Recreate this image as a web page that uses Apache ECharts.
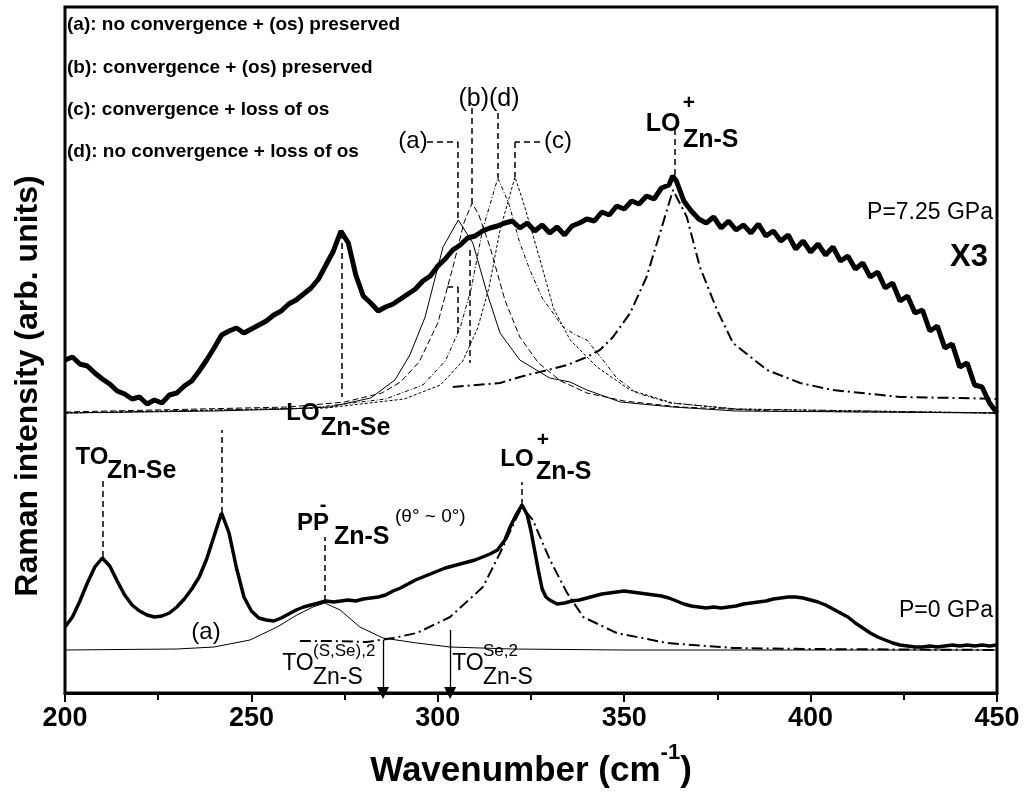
<!DOCTYPE html>
<html>
<head>
<meta charset="utf-8">
<script src="https://cdn.jsdelivr.net/npm/echarts@6/dist/echarts.min.js"></script>
<style>
  html, body { margin: 0; padding: 0; background: #fff; }
  #chart { width: 1027px; height: 798px; }
</style>
</head>
<body>
<div id="chart"></div>
<script>
// x axis ticks (cm-1)
const xTicks = [200, 250, 300, 350, 400, 450]

// P = 7.25 GPa spectrum (shown x3), [wavenumber, intensity]
const spectrumHigh = [
  [200, 333], [202, 336], [204, 329], [206, 327], [208, 320], [210, 314], [212, 309], [214, 302],
  [216, 299], [218, 294], [220, 296], [222, 289], [224, 293], [226, 290], [228, 298], [230, 300],
  [232, 307], [234, 312], [236, 322], [238, 333], [240, 345], [242, 358], [244, 362], [246, 365],
  [248, 360], [250, 364], [252, 368], [254, 372], [256, 378], [258, 382], [260, 389], [262, 393],
  [264, 399], [266, 405], [268, 414], [270, 428], [272, 442], [274, 462], [276, 450], [278, 418],
  [280, 397], [282, 390], [284, 382], [286, 386], [288, 389], [290, 394], [292, 399], [294, 404],
  [296, 412], [298, 417], [300, 427], [302, 434], [304, 443], [306, 448], [308, 455], [310, 457],
  [312, 462], [314, 465], [316, 467], [318, 470], [320, 472], [322, 465], [324, 470], [326, 462],
  [328, 468], [330, 460], [332, 466], [334, 458], [336, 467], [338, 470], [340, 474], [342, 472],
  [344, 481], [346, 478], [348, 487], [350, 484], [352, 492], [354, 489], [356, 497], [358, 494],
  [360, 505], [362, 508], [363, 517], [364, 512], [366, 492], [368, 482], [370, 474], [372, 470],
  [374, 476], [376, 465], [378, 472], [380, 463], [382, 468], [384, 460], [386, 469], [388, 457],
  [390, 462], [392, 452], [394, 458], [396, 444], [398, 452], [400, 441], [402, 449], [404, 438],
  [406, 446], [408, 432], [410, 437], [412, 424], [414, 430], [416, 416], [418, 421], [420, 405],
  [422, 410], [424, 392], [426, 397], [428, 380], [430, 383], [432, 362], [434, 367], [436, 345],
  [438, 349], [440, 326], [442, 330], [444, 308], [446, 306], [448, 290], [450, 280]
]

// P = 0 GPa spectrum
const spectrumLow = [
  [200, 66], [202, 76], [204, 92], [206, 110], [208, 126], [210, 135], [212, 127], [214, 112],
  [216, 98], [218, 88], [220, 82], [222, 78], [224, 76], [226, 77], [228, 80], [230, 86],
  [232, 94], [234, 104], [236, 116], [238, 134], [240, 157], [242, 180], [244, 160], [246, 125],
  [248, 96], [250, 82], [252, 75], [254, 73], [256, 72], [258, 75], [260, 79], [262, 83],
  [264, 86], [266, 88], [268, 90], [270, 92], [272, 91], [274, 92], [276, 93], [278, 92],
  [280, 94], [282, 95], [284, 96], [286, 98], [288, 102], [290, 105], [292, 109], [294, 113],
  [296, 116], [298, 119], [300, 122], [302, 125], [304, 127], [306, 129], [308, 131], [310, 133],
  [312, 136], [314, 139], [316, 143], [318, 153], [319.4, 166], [321, 178], [322.6, 188], [324, 178],
  [325, 162], [326, 142], [327, 122], [328, 104], [329, 96], [330, 93], [332, 89], [334, 90],
  [336, 92], [338, 93], [340, 95], [342, 97], [344, 99], [346, 100], [348, 101], [350, 102],
  [352, 101], [354, 100], [356, 99], [358, 98], [360, 97], [362, 95], [364, 92], [366, 89],
  [368, 87], [370, 86], [372, 85], [374, 86], [376, 85], [378, 86], [380, 87], [382, 89],
  [384, 90], [386, 91], [388, 92], [390, 94], [392, 95], [394, 96], [396, 96], [398, 95],
  [400, 93], [402, 91], [404, 88], [406, 84], [408, 80], [410, 76], [412, 70], [414, 65],
  [416, 60], [418, 56], [420, 53], [422, 50], [424, 48], [426, 47], [428, 46], [430, 46],
  [432, 47], [434, 46], [436, 47], [438, 48], [440, 47], [442, 48], [444, 47], [446, 48],
  [448, 47], [450, 48]
]

// fitted components, 7.25 GPa
const fitA = [
  [200, 280], [240, 282], [260, 284], [271, 286], [282, 295], [288.5, 313], [292.5, 338], [296.6, 376],
  [301.4, 446], [305.5, 473], [309.4, 450], [313.2, 400], [316.7, 360], [322, 333], [330, 315],
  [335.5, 311], [340, 303], [349, 291], [363, 286], [380, 282], [450, 280]
]
const fitB = [
  [200, 281], [260, 286], [275, 291], [285, 300], [290, 311], [295, 331], [300, 370], [304, 425],
  [307, 470], [309.2, 490], [311, 478], [314, 446], [318, 393], [322, 356], [327, 330], [333, 312],
  [340, 300], [350, 292], [365, 286], [390, 282], [450, 280]
]
const fitC = [
  [200, 280], [270, 285], [291, 294], [300.7, 308], [306.7, 332], [310.7, 365], [313.7, 405],
  [316.7, 463], [320.7, 516], [323, 490], [325.5, 458], [328.2, 423], [331, 385], [335.5, 353],
  [342.7, 326], [351.6, 303], [363, 290], [380, 284], [450, 280]
]
const fitD = [
  [200, 280], [266, 285], [286, 294], [296, 308], [302, 332], [306, 365], [309, 405], [312, 463],
  [316.1, 515], [319, 490], [322, 450], [324.7, 423], [328, 395], [333.6, 366], [337, 358],
  [340, 353], [344.3, 333], [348, 315], [353.4, 300], [362.3, 290], [380, 284], [450, 280]
]
const fitLoHigh = [
  [304, 306], [316.7, 310], [322, 316], [334.7, 328], [340, 336], [343.5, 343], [347, 356],
  [351.6, 380], [356, 416], [359.6, 460], [363.1, 503], [366.8, 476], [370.3, 426], [374.9, 383],
  [379.2, 350], [388.3, 323], [397.2, 310], [406, 303], [424, 296], [440, 295], [450, 294]
]

// fitted components, 0 GPa
const fitPP = [
  [200, 43], [230, 44], [240, 46], [249.6, 53], [256.9, 66], [262.2, 78], [266.5, 86], [269.7, 90],
  [273.8, 83], [279.1, 66], [285.3, 55], [294.4, 50], [303.3, 46], [320, 44], [350, 43], [450, 43]
]
const fitLoLow = [
  [263, 52], [272, 52], [281, 51], [288, 55], [294.4, 60], [303.3, 76], [312.1, 106], [316.7, 140],
  [321.2, 176], [322.6, 186], [325.5, 173], [330.1, 133], [334.7, 100], [339, 76], [348, 60],
  [361.5, 50], [379.2, 45], [400, 44], [450, 43]
]

// dashed mode markers [x1, y1, x2, y2]
const guides = [
  [210, 136, 210, 215],
  [242, 180, 242, 263],
  [269.7, 92, 269.7, 156],
  [322.6, 188, 322.6, 211],
  [274.3, 460, 274.3, 296],
  [363.6, 518, 363.6, 566],
  [297.1, 551, 305.4, 551], [305.4, 551, 305.4, 473],
  [309.2, 585, 309.2, 490],
  [316.1, 580, 316.1, 515],
  [327.4, 551, 320.7, 551], [320.7, 551, 320.7, 516],
  [302.5, 406, 305.4, 406], [305.4, 406, 305.4, 360],
  [308.6, 443, 308.6, 330]
]
// TO arrows [x, yTop]
const arrows = [[285.3, 53], [303.3, 63]]

const FONT = '"Liberation Sans", Arial, sans-serif'
const measure = document.createElement('canvas').getContext('2d')
function textWidth(s, size, bold) {
  measure.font = (bold ? 'bold ' : '') + size + 'px ' + FONT
  return measure.measureText(s).width
}
function txt(x, y, s, size, bold, align) {
  return {
    type: 'text', x, y, z: 100,
    style: {
      text: s, fontSize: size, fontWeight: bold ? 'bold' : 'normal', fontFamily: FONT,
      fill: '#000', align: align || 'center', verticalAlign: 'middle'
    }
  }
}

function lineSeries(data, width, type, z) {
  return {
    type: 'line', data, showSymbol: false, symbol: 'none', silent: true, z: z || 2,
    lineStyle: { color: '#000', width, type: type || 'solid' },
    animation: false
  }
}

// axis title with superscript
const xt1 = 'Wavenumber (cm', xt2 = '-1', xt3 = ')'
const w1 = textWidth(xt1, 35, true), w2 = textWidth(xt2, 22, true), w3 = textWidth(xt3, 35, true)
const xtStart = 531 - (w1 + w2 + w3) / 2

const graphics = [
  txt(67, 25, '(a): no convergence + (os) preserved', 19, true, 'left'),
  txt(67, 68, '(b): convergence + (os) preserved', 19, true, 'left'),
  txt(67, 110, '(c): convergence + loss of os', 19, true, 'left'),
  txt(67, 152, '(d): no convergence + loss of os', 19, true, 'left'),
  txt(413, 141, '(a)', 24, false),
  txt(489, 99, '(b)(d)', 25, false),
  txt(558, 141, '(c)', 24, false),
  txt(663, 124, 'LO', 25, true), txt(689, 103, '+', 21, true), txt(683, 140, 'Zn-S', 25, true, 'left'),
  txt(303, 413, 'LO', 24, true), txt(321, 428, 'Zn-Se', 25, true, 'left'),
  txt(993, 213, 'P=7.25 GPa', 23, false, 'right'),
  txt(988, 257, 'X3', 31, true, 'right'),
  txt(92, 457, 'TO', 24, true), txt(107, 471, 'Zn-Se', 25, true, 'left'),
  txt(517, 459, 'LO', 24, true), txt(543, 440, '+', 21, true), txt(536, 472, 'Zn-S', 25, true, 'left'),
  txt(313, 523, 'PP', 24, true), txt(323, 505, '-', 20, true), txt(334, 537, 'Zn-S', 25, true, 'left'),
  txt(395, 517, '(θ° ~ 0°)', 19, false, 'left'),
  txt(206, 632, '(a)', 24, false),
  txt(993, 611, 'P=0 GPa', 23, false, 'right'),
  txt(298, 664, 'TO', 23, false), txt(313, 651, '(S,Se),2', 17, false, 'left'), txt(313, 678, 'Zn-S', 23, false, 'left'),
  txt(468, 664, 'TO', 23, false), txt(483, 651, 'Se,2', 17, false, 'left'), txt(483, 678, 'Zn-S', 23, false, 'left'),
  txt(xtStart, 771, xt1, 35, true, 'left'),
  txt(xtStart + w1, 753, xt2, 22, true, 'left'),
  txt(xtStart + w1 + w2, 771, xt3, 35, true, 'left'),
  {
    type: 'text', x: 28, y: 386, rotation: Math.PI / 2, z: 100,
    style: {
      text: 'Raman intensity (arb. units)', fontSize: 32, fontWeight: 'bold', fontFamily: FONT,
      fill: '#000', align: 'center', verticalAlign: 'middle'
    }
  }
]

const guideSeries = lineSeries([], 1, 'solid', 3)
guideSeries.markLine = {
  silent: true, animation: false, symbol: ['none', 'none'],
  label: { show: false },
  lineStyle: { color: '#000', width: 1.5, type: [6, 4] },
  data: guides.map((g) => [{ coord: [g[0], g[1]] }, { coord: [g[2], g[3]] }])
}
const arrowSeries = lineSeries([], 1, 'solid', 3)
arrowSeries.markLine = {
  silent: true, animation: false, symbol: ['none', 'triangle'], symbolSize: 12,
  label: { show: false },
  lineStyle: { color: '#000', width: 1.3, type: 'solid' },
  data: arrows.map((a) => [{ coord: [a[0], a[1]] }, { coord: [a[0], 0] }])
}

const option = {
  animation: false,
  backgroundColor: '#fff',
  grid: { left: 65, right: 30, top: 7, bottom: 105, show: true, borderColor: '#000', borderWidth: 3 },
  xAxis: {
    type: 'value', min: xTicks[0], max: xTicks[xTicks.length - 1], interval: 50,
    axisLine: { show: true, onZero: false, lineStyle: { color: '#000', width: 3 } },
    axisTick: { show: true, inside: false, length: 9, lineStyle: { color: '#000', width: 2 } },
    minorTick: { show: true, splitNumber: 2, length: 7, lineStyle: { color: '#000', width: 2 } },
    axisLabel: { color: '#000', fontSize: 27, fontWeight: 'bold', fontFamily: FONT, margin: 12 },
    splitLine: { show: false }
  },
  yAxis: {
    type: 'value', min: 0, max: 686,
    axisLine: { show: false }, axisTick: { show: false }, axisLabel: { show: false },
    splitLine: { show: false }
  },
  series: [
    lineSeries(fitPP, 1),
    lineSeries(fitLoLow, 2, [11, 4, 2, 4]),
    lineSeries(fitA, 1),
    lineSeries(fitB, 1, [6, 3]),
    lineSeries(fitC, 1, [3, 2]),
    lineSeries(fitD, 1, [4, 2, 1, 2]),
    lineSeries(fitLoHigh, 2, [11, 4, 2, 4]),
    lineSeries(spectrumLow, 3.5, 'solid', 5),
    lineSeries(spectrumHigh, 5, 'solid', 5),
    guideSeries,
    arrowSeries
  ],
  graphic: { elements: graphics }
}

const chart = echarts.init(document.getElementById('chart'))
chart.setOption(option)
</script>
</body>
</html>
